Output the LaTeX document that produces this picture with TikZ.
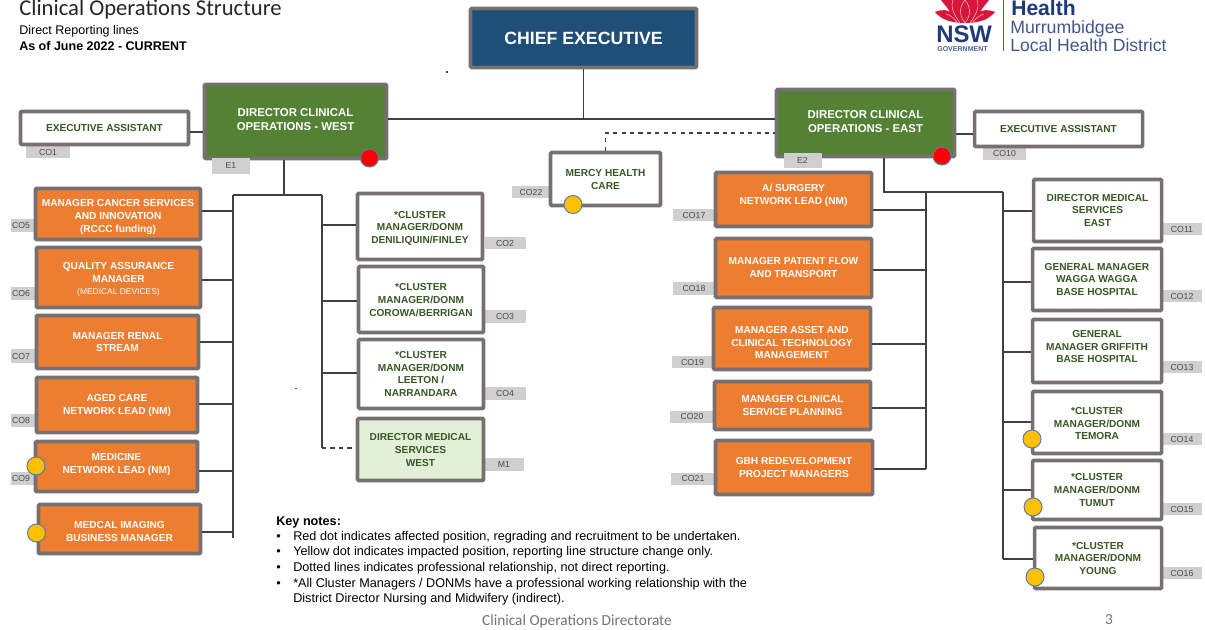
\documentclass[tikz,border=0pt]{standalone}
\usepackage{fontspec}
\setmainfont{Liberation Sans}
\newfontfamily\calibri{Carlito}
\definecolor{boxgrey}{HTML}{767070}
\definecolor{taggrey}{HTML}{D0CECE}
\definecolor{orangefill}{HTML}{ED7D31}
\definecolor{greenfill}{HTML}{548235}
\definecolor{greentext}{HTML}{385723}
\definecolor{palegreen}{HTML}{E2EFD9}
\definecolor{navyfill}{HTML}{1F4E79}
\definecolor{dotyellow}{HTML}{FFC000}
\definecolor{dotrim}{HTML}{5B7BA8}
\definecolor{logoblue}{HTML}{1F3A78}
\definecolor{waratah}{HTML}{D8153A}
\newcommand{\lifted}[2]{\raisebox{#1}[\height][\depth]{\begin{tabular}{@{}c@{}}#2\end{tabular}}}
\tikzset{
    wh/.style 2 args={minimum width=#1*0.025cm, minimum height=#2*0.025cm},
    orgbox/.style={draw=boxgrey, line width=2.5pt, rounded corners=0.7pt, inner sep=0pt, align=center,
        font=\fontsize{7.2}{9}\selectfont\bfseries},
    whitebox/.style={orgbox, fill=white, text=greentext},
    orangebox/.style={orgbox, fill=orangefill, text=white},
    greenbox/.style={orgbox, fill=greenfill, text=white, font=\fontsize{8.1}{10}\selectfont\bfseries},
    tag/.style={fill=taggrey, text=black!70, inner sep=0pt, font=\fontsize{6.2}{7}\selectfont},
    link/.style={draw=black!75, line width=0.75pt},
    dashlink/.style={link, dashed},
    yellowdot/.style={circle, fill=dotyellow, draw=dotrim, line width=0.7pt, minimum size=18*0.025cm, inner sep=0pt},
    reddot/.style={circle, fill=red, draw=dotrim, line width=0.7pt, minimum size=18*0.025cm, inner sep=0pt},
}
\begin{document}
\begin{tikzpicture}[x=0.025cm,y=-0.025cm]
    \useasboundingbox (0,0) rectangle (1205,630);
    % heading
    \node[anchor=base west, inner sep=0pt, font=\calibri\fontsize{16.1}{18}\selectfont, text=black!85] (title) at (19,16) {Clinical Operations Structure};
    \node[anchor=base west, inner sep=0pt, font=\fontsize{8.9}{10}\selectfont] (subtitle) at (19,35) {Direct Reporting lines};
    \node[anchor=base west, inner sep=0pt, font=\fontsize{8.9}{10}\selectfont\bfseries] (asof) at (19,51) {As of June 2022 - CURRENT};
    % logo
    \fill[waratah] (935,12) .. controls (943,9) and (947,10) .. (950,12) .. controls (947,7) and (943,3) .. (941,0) -- (989,0)
        .. controls (987,3) and (983,7) .. (980,12) .. controls (983,10) and (987,9) .. (995,12)
        .. controls (990,18) and (982,23) .. (965,23) .. controls (948,23) and (940,18) .. (935,12) -- cycle;
    \draw[white!70!waratah, line width=0.4pt] (953,0) .. controls (950,8) and (955,16) .. (960,23);
    \draw[white!70!waratah, line width=0.4pt] (977,0) .. controls (980,8) and (975,16) .. (970,23);
    \draw[white!70!waratah, line width=0.4pt] (965,23) .. controls (958,14) and (960,6) .. (965,0) .. controls (970,6) and (972,14) .. (965,23);
    \draw[white!70!waratah, line width=0.4pt] (946,14) .. controls (950,15) and (954,18) .. (957,22);
    \draw[white!70!waratah, line width=0.4pt] (984,14) .. controls (980,15) and (976,18) .. (973,22);
    \node[anchor=base west, inner sep=0pt, font=\fontsize{17}{18}\selectfont\bfseries, text=logoblue] (nsw) at (936,42.5) {NSW};
    \node[anchor=base west, inner sep=0pt, font=\fontsize{5}{6}\selectfont\bfseries, text=logoblue!80] (gov) at (937,51.5) {GOVERNMENT};
    \draw[logoblue!80, line width=0.6pt] (1003.5,0) -- (1003.5,51);
    \node[anchor=base west, inner sep=0pt, font=\fontsize{15}{16}\selectfont\bfseries, text=logoblue] (health) at (1011,15.2) {Health};
    \node[anchor=base west, inner sep=0pt, font=\fontsize{12.6}{14}\selectfont, text=logoblue!85] (murrum) at (1010,34) {Murrumbidgee};
    \node[anchor=base west, inner sep=0pt, font=\fontsize{12.5}{14}\selectfont, text=logoblue!85] (lhd) at (1010,51.5) {Local Health District};
    % grey position tags
    \node[tag, wh={44}{12}] (co1) at (48,152) {CO1};
    \node[tag, wh={43}{13}] (co10) at (1004.5,153.5) {CO10};
    \node[tag, wh={38}{12}] (co22) at (531,192.5) {CO22};
    \node[tag, wh={24}{13}, text width=22*0.025cm] (co5) at (23,225.5) {CO5};
    \node[tag, wh={24}{13}, text width=22*0.025cm] (co6) at (23,293.5) {CO6};
    \node[tag, wh={24}{14}, text width=22*0.025cm] (co7) at (23,356) {CO7};
    \node[tag, wh={24}{13}, text width=22*0.025cm] (co8) at (23,420.5) {CO8};
    \node[tag, wh={24}{13}, text width=22*0.025cm] (co9) at (23,478.5) {CO9};
    \node[tag, wh={41}{12}] (co2) at (505,243.5) {CO2};
    \node[tag, wh={41}{13}] (co3) at (505,316.5) {CO3};
    \node[tag, wh={41}{13}] (co4) at (505,393.5) {CO4};
    \node[tag, wh={40}{13}] (m1tag) at (504,464.5) {M1};
    \node[tag, wh={42}{12}] (co17) at (694,215.5) {CO17};
    \node[tag, wh={42}{12}] (co18) at (694,288.5) {CO18};
    \node[tag, wh={41}{12}] (co19) at (692.5,362) {CO19};
    \node[tag, wh={44}{12}] (co20) at (692,416.5) {CO20};
    \node[tag, wh={44}{12}] (co21) at (693,478.5) {CO21};
    \node[tag, wh={39}{12}] (co11) at (1182,229) {CO11};
    \node[tag, wh={39}{12}] (co12) at (1182,296) {CO12};
    \node[tag, wh={39}{12}] (co13) at (1182,367) {CO13};
    \node[tag, wh={39}{12}] (co14) at (1182,439) {CO14};
    \node[tag, wh={39}{12}] (co15) at (1182,509) {CO15};
    \node[tag, wh={39}{12}] (co16) at (1182,573) {CO16};
    % top level
    \node[orgbox, fill=navyfill, text=white, wh={226}{59}, font=\fontsize{12.6}{14}\selectfont\bfseries] (ce) at (583.5,38) {CHIEF EXECUTIVE};
    \node[greenbox, wh={182}{74}] (west) at (295.5,121.5) {\lifted{0.7pt}{DIRECTOR CLINICAL\\OPERATIONS - WEST}};
    \node[greenbox, wh={178}{67}] (east) at (865.5,123) {\lifted{0pt}{DIRECTOR CLINICAL\\OPERATIONS - EAST}};
    \node[tag, wh={38}{16}] (e1tag) at (231,166) {E1};
    \node[tag, wh={38}{15}] (e2tag) at (802.5,160.5) {E2};
    \node[whitebox, wh={168}{33}] (eawest) at (104.5,128) {EXECUTIVE ASSISTANT};
    \node[whitebox, wh={168}{35}] (eaeast) at (1058.5,129) {EXECUTIVE ASSISTANT};
    \node[whitebox, wh={110}{53}] (mercy) at (605.5,179) {\lifted{-1pt}{MERCY HEALTH\\CARE}};
    % west, left column
    \node[orangebox, wh={165}{51}] (cancer) at (118,214) {\lifted{-2.2pt}{MANAGER CANCER SERVICES\\AND  INNOVATION\\(RCCC funding)}};
    \node[orangebox, wh={164}{60}] (quality) at (118.5,277.5) {\lifted{-1.4pt}{QUALITY ASSURANCE\\MANAGER\\{\fontsize{6}{8}\selectfont\mdseries (MEDICAL DEVICES)}}};
    \node[orangebox, wh={162}{53}] (renal) at (117.5,342) {\lifted{-0.7pt}{MANAGER RENAL\\STREAM}};
    \node[orangebox, wh={161}{55}] (aged) at (117,405) {\lifted{-0.4pt}{AGED CARE\\NETWORK LEAD (NM)}};
    \node[orangebox, wh={162}{50}] (medicine) at (116.5,466.5) {\lifted{1.6pt}{MEDICINE\\NETWORK LEAD (NM)}};
    \node[orangebox, wh={162}{49}] (imaging) at (119.5,529) {\lifted{-2.4pt}{MEDCAL IMAGING\\BUSINESS MANAGER}};
    % west, middle column
    \node[whitebox, wh={125}{66}] (deni) at (420,226.5) {\lifted{-1.4pt}{*CLUSTER\\MANAGER/DONM\\DENILIQUIN/FINLEY}};
    \node[whitebox, wh={125}{66}] (corowa) at (421,299.5) {\lifted{-1pt}{*CLUSTER\\MANAGER/DONM\\COROWA/BERRIGAN}};
    \node[whitebox, wh={125}{69}] (leeton) at (421,374) {\lifted{-0.7pt}{*CLUSTER\\MANAGER/DONM\\LEETON /\\NARRANDARA}};
    \node[orgbox, fill=palegreen, text=greentext, wh={126}{62}] (dmswest) at (420.5,449.5) {\lifted{-1pt}{DIRECTOR MEDICAL\\SERVICES\\WEST}};
    % east, middle column
    \node[orangebox, wh={156}{54}] (surgery) at (793.5,199.5) {\lifted{2.8pt}{A/ SURGERY\\NETWORK LEAD  (NM)}};
    \node[orangebox, wh={156}{59}] (flow) at (793.5,268) {\lifted{-0.4pt}{MANAGER PATIENT FLOW\\AND TRANSPORT}};
    \node[orangebox, wh={157}{62}] (asset) at (792,338.5) {\lifted{-3.6pt}{MANAGER ASSET AND\\CLINICAL TECHNOLOGY\\MANAGEMENT}};
    \node[orangebox, wh={156}{48}] (planning) at (792.5,405.5) {\lifted{-0.7pt}{MANAGER CLINICAL\\SERVICE PLANNING}};
    \node[orangebox, wh={157}{54}] (gbh) at (794,467.5) {\lifted{-0.7pt}{GBH REDEVELOPMENT\\PROJECT MANAGERS}};
    % east, right column
    \node[whitebox, wh={128}{62}] (dmseast) at (1097.5,210.5) {DIRECTOR MEDICAL\\SERVICES\\EAST};
    \node[whitebox, wh={129}{62}] (wagga) at (1097,279.5) {GENERAL MANAGER\\WAGGA WAGGA\\BASE HOSPITAL};
    \node[whitebox, wh={129}{63}] (griffith) at (1097,351) {\lifted{2.4pt}{GENERAL\\MANAGER  GRIFFITH\\BASE HOSPITAL}};
    \node[whitebox, wh={129}{62}] (temora) at (1097,422.5) {\lifted{-1.4pt}{*CLUSTER\\MANAGER/DONM\\TEMORA}};
    \node[whitebox, wh={129}{59}] (tumut) at (1097,490) {\lifted{-0.7pt}{*CLUSTER\\MANAGER/DONM\\TUMUT}};
    \node[whitebox, wh={127}{61}] (young) at (1098,558) {\lifted{-1pt}{*CLUSTER\\MANAGER/DONM\\YOUNG}};
    % reporting lines
    \coordinate (westdrop) at (284,195);
    \coordinate (westleft) at (233,195);
    \coordinate (westright) at (322,195);
    \coordinate (eastdrop) at (884,192);
    \coordinate (eastmid) at (926,192);
    \coordinate (eastright) at (1003,192);
    \draw[link] (ce.south) -- (ce.south |- 0,119);
    \draw[link] (west.east |- 0,119) -- (east.west |- 0,119);
    \draw[link] (eawest.east |- 0,132) -- (west.west |- 0,132);
    \draw[link] (east.east |- 0,134) -- (eaeast.west |- 0,134);
    \draw[dashlink] (mercy.north) -- (mercy.north |- 0,133) -- (east.west |- 0,133);
    \draw[link] (west.south -| westdrop) -- (westdrop);
    \draw[link] (westleft) -- (westright);
    \draw[link] (westleft) -- (westleft |- 0,538);
    \draw[link] (westright) -- (westright |- 0,448);
    \draw[link] (cancer.east |- 0,211) -- (westleft |- 0,211);
    \draw[link] (quality.east |- 0,280) -- (westleft |- 0,280);
    \draw[link] (renal.east |- 0,342) -- (westleft |- 0,342);
    \draw[link] (aged.east |- 0,404) -- (westleft |- 0,404);
    \draw[link] (medicine.east |- 0,471) -- (westleft |- 0,471);
    \draw[link] (imaging.east |- 0,532) -- (westleft |- 0,532);
    \draw[link] (westright |- 0,225) -- (deni.west |- 0,225);
    \draw[link] (westright |- 0,301) -- (corowa.west |- 0,301);
    \draw[link] (westright |- 0,373) -- (leeton.west |- 0,373);
    \draw[dashlink] (westright |- 0,448) -- (dmswest.west |- 0,448);
    \draw[link] (east.south -| eastdrop) -- (eastdrop) -- (eastright);
    \draw[link] (eastmid) -- (eastmid |- 0,469);
    \draw[link] (eastright) -- (eastright |- 0,559);
    \draw[link] (surgery.east |- 0,210) -- (eastmid |- 0,210);
    \draw[link] (flow.east |- 0,270) -- (eastmid |- 0,270);
    \draw[link] (asset.east |- 0,344) -- (eastmid |- 0,344);
    \draw[link] (planning.east |- 0,408) -- (eastmid |- 0,408);
    \draw[link] (gbh.east |- 0,469) -- (eastmid |- 0,469);
    \draw[link] (eastright |- 0,211) -- (dmseast.west |- 0,211);
    \draw[link] (eastright |- 0,282) -- (wagga.west |- 0,282);
    \draw[link] (eastright |- 0,352) -- (griffith.west |- 0,352);
    \draw[link] (eastright |- 0,422) -- (temora.west |- 0,422);
    \draw[link] (eastright |- 0,490) -- (tumut.west |- 0,490);
    \draw[link] (eastright |- 0,559) -- (young.west |- 0,559);
    % dots
    \node[reddot] (westdot) at (369.5,158) {};
    \node[reddot] (eastdot) at (942,156) {};
    \node[yellowdot] (mercydot) at (573,204.5) {};
    \node[yellowdot] (medicinedot) at (36,466) {};
    \node[yellowdot] (imagingdot) at (36.5,533) {};
    \node[yellowdot] (temoradot) at (1032,439) {};
    \node[yellowdot] (tumutdot) at (1033,507) {};
    \node[yellowdot] (youngdot) at (1035,577) {};
    % stray marks
    \fill[navyfill] (446,71.5) rectangle (448,73);
    \fill[black!60] (295,387.5) rectangle (297,388.5);
    % key notes
    \node[anchor=base west, inner sep=0pt, font=\fontsize{9}{10}\selectfont\bfseries] (keyhead) at (276,525) {Key notes:};
    \node[anchor=base west, inner sep=0pt, font=\fontsize{9}{10}\selectfont] (bull1) at (276,540) {•};
    \node[anchor=base west, inner sep=0pt, font=\fontsize{9}{10}\selectfont] (note1) at (293,540) {Red dot indicates affected position, regrading and recruitment to be undertaken.};
    \node[anchor=base west, inner sep=0pt, font=\fontsize{9}{10}\selectfont] (bull2) at (276,555) {•};
    \node[anchor=base west, inner sep=0pt, font=\fontsize{9}{10}\selectfont] (note2) at (293,555) {Yellow dot indicates impacted position, reporting line structure change only.};
    \node[anchor=base west, inner sep=0pt, font=\fontsize{9}{10}\selectfont] (bull3) at (276,571) {•};
    \node[anchor=base west, inner sep=0pt, font=\fontsize{9}{10}\selectfont] (note3) at (293,571) {Dotted lines indicates professional relationship, not direct reporting.};
    \node[anchor=base west, inner sep=0pt, font=\fontsize{9}{10}\selectfont] (bull4) at (276,587) {•};
    \node[anchor=base west, inner sep=0pt, font=\fontsize{9}{10}\selectfont] (note4) at (293,587) {*All Cluster Managers / DONMs have a professional working relationship with the};
    \node[anchor=base west, inner sep=0pt, font=\fontsize{9}{10}\selectfont] (note5) at (293,602) {District Director Nursing and Midwifery (indirect).};
    % footer
    \node[anchor=base, inner sep=0pt, font=\calibri\fontsize{10.9}{12}\selectfont, text=black!55] (footer) at (577,625) {Clinical Operations Directorate};
    \node[anchor=base, inner sep=0pt, font=\calibri\fontsize{10.9}{12}\selectfont, text=black!55] (pageno) at (1109,624) {3};
\end{tikzpicture}
\end{document}
